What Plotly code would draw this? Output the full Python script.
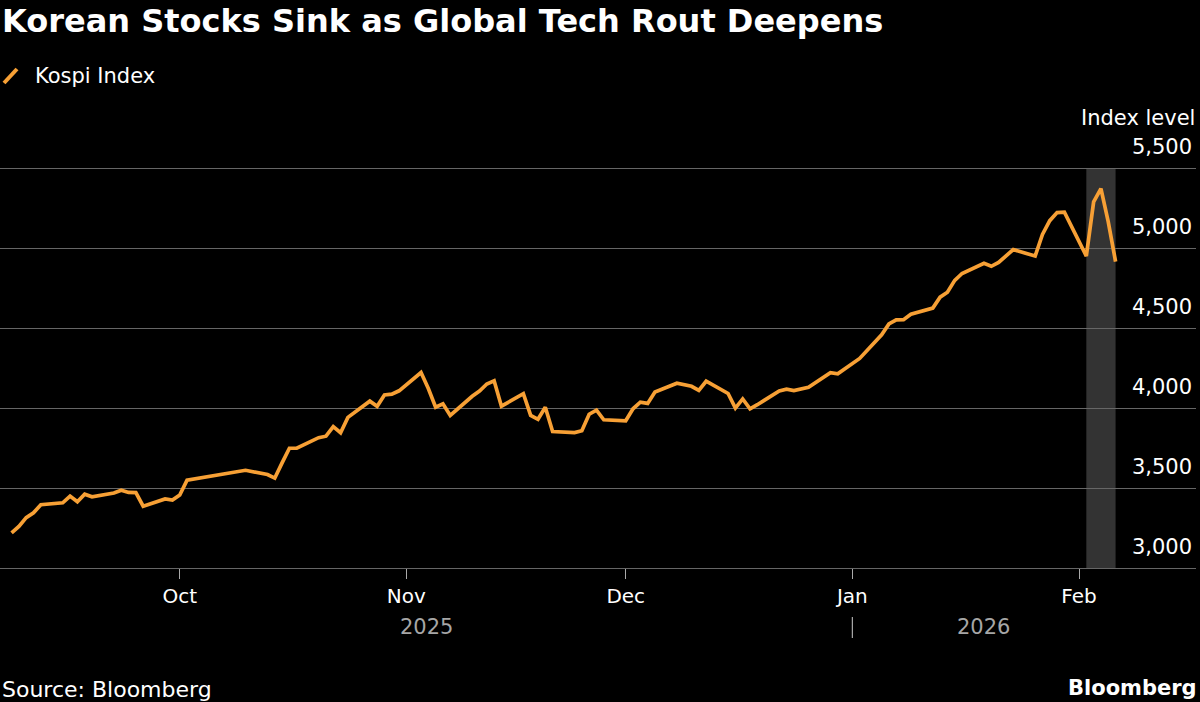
import plotly.graph_objects as go
import pandas as pd

# ---------------- data ----------------
dates = [
    "2025-09-08", "2025-09-09", "2025-09-10", "2025-09-11", "2025-09-12",
    "2025-09-15", "2025-09-16", "2025-09-17", "2025-09-18", "2025-09-19",
    "2025-09-22", "2025-09-23", "2025-09-24", "2025-09-25", "2025-09-26",
    "2025-09-29", "2025-09-30", "2025-10-01", "2025-10-02",
    "2025-10-10", "2025-10-13", "2025-10-14", "2025-10-15", "2025-10-16", "2025-10-17",
    "2025-10-20", "2025-10-21", "2025-10-22", "2025-10-23", "2025-10-24",
    "2025-10-27", "2025-10-28", "2025-10-29", "2025-10-30", "2025-10-31",
    "2025-11-03", "2025-11-04", "2025-11-05", "2025-11-06", "2025-11-07",
    "2025-11-10", "2025-11-11", "2025-11-12", "2025-11-13", "2025-11-14",
    "2025-11-17", "2025-11-18", "2025-11-19", "2025-11-20", "2025-11-21",
    "2025-11-24", "2025-11-25", "2025-11-26", "2025-11-27", "2025-11-28",
    "2025-12-01", "2025-12-02", "2025-12-03", "2025-12-04", "2025-12-05",
    "2025-12-08", "2025-12-09", "2025-12-10", "2025-12-11", "2025-12-12",
    "2025-12-15", "2025-12-16", "2025-12-17", "2025-12-18", "2025-12-19",
    "2025-12-22", "2025-12-23", "2025-12-24", "2025-12-26",
    "2025-12-29", "2025-12-30",
    "2026-01-02",
    "2026-01-05", "2026-01-06", "2026-01-07", "2026-01-08", "2026-01-09",
    "2026-01-12", "2026-01-13", "2026-01-14", "2026-01-15", "2026-01-16",
    "2026-01-19", "2026-01-20", "2026-01-21", "2026-01-22", "2026-01-23",
    "2026-01-26", "2026-01-27", "2026-01-28", "2026-01-29", "2026-01-30",
    "2026-02-02", "2026-02-03", "2026-02-04", "2026-02-05", "2026-02-06",
]

kospi = [
    3219.59, 3260.05, 3314.53, 3344.70, 3395.54,
    3407.31, 3449.62, 3413.73, 3461.30, 3445.24,
    3468.65, 3486.19, 3472.14, 3471.11, 3386.05,
    3431.21, 3424.60, 3455.83, 3549.21,
    3610.60, 3584.55, 3561.81, 3657.28, 3748.37, 3748.89,
    3814.69, 3823.84, 3883.68, 3845.56, 3941.59,
    4042.83, 4010.41, 4081.15, 4086.89, 4107.50,
    4221.87, 4121.74, 4004.42, 4026.45, 3953.76,
    4073.24, 4106.39, 4150.39, 4170.63, 4011.57,
    4089.25, 3953.62, 3929.51, 4004.85, 3853.26,
    3846.06, 3857.78, 3960.87, 3986.91, 3926.59,
    3920.37, 3994.93, 4036.30, 4028.51, 4100.05,
    4154.85, 4143.55, 4135.59, 4110.62, 4167.16,
    4090.59, 3999.13, 4056.41, 3994.51, 4020.55,
    4105.93, 4117.32, 4108.62, 4129.68,
    4220.56, 4214.17,
    4309.63,
    4457.52, 4525.48, 4551.06, 4552.37, 4586.32,
    4624.79, 4692.64, 4723.10, 4797.55, 4840.74,
    4904.66, 4885.75, 4909.93, 4952.53, 4990.07,
    4949.59, 5084.85, 5170.81, 5221.25, 5224.36,
    4949.67, 5288.08, 5371.10, 5163.57, 4915.00,
]

month_ticks = ["2025-10-01", "2025-11-01", "2025-12-01", "2026-01-01", "2026-02-01"]
month_labels = ["Oct", "Nov", "Dec", "Jan", "Feb"]
year_labels = ["2025", "2026"]
year_break = "2026-01-01"

y_ticks = [3000, 3500, 4000, 4500, 5000, 5500]
y_labels = ["3,000", "3,500", "4,000", "4,500", "5,000", "5,500"]

highlight_start = "2026-02-02"
highlight_end = "2026-02-06"

title = "Korean Stocks Sink as Global Tech Rout Deepens"
series_name = "Kospi Index"
unit_label = "Index level"
source = "Source: Bloomberg"
brand = "Bloomberg"

# ---------------- styling ----------------
W, H = 1200, 702
ML, MR, MT, MB = 0, 4, 166, 134
PW, PH = W - ML - MR, H - MT - MB
ORANGE = "#f7a035"
GRID = "#666666"
FONT = "DejaVu Sans"
Y_RANGE = [3000, 5512.5]

def px_x(px):
    return (px - ML) / PW

def px_y(py):
    return (H - MB - py) / PH

x_start = pd.Timestamp("2025-09-06 10:00")
x_end = pd.Timestamp("2026-02-17")

fig = go.Figure()
fig.add_trace(go.Scatter(
    x=pd.to_datetime(dates), y=kospi, mode="lines", name=series_name,
    line=dict(color=ORANGE, width=3.7), showlegend=False, hoverinfo="skip",
))

# highlight band
fig.add_shape(type="rect", xref="x", yref="y",
              x0=highlight_start, x1=highlight_end, y0=y_ticks[0], y1=y_ticks[-1],
              fillcolor="#333333", line_width=0, layer="below")

# year separator
fig.add_shape(type="line", xref="x", yref="paper",
              x0=year_break, x1=year_break, y0=px_y(617), y1=px_y(638),
              line=dict(color="#aaaaaa", width=1.2))

# legend icon
fig.add_shape(type="line", xref="paper", yref="paper",
              x0=px_x(4), y0=px_y(83), x1=px_x(17), y1=px_y(69),
              line=dict(color=ORANGE, width=4))

annotations = [
    dict(text=f"<b>{title}</b>", x=px_x(0), y=px_y(21), xanchor="left", yanchor="middle",
         font=dict(size=32, color="white", family=FONT)),
    dict(text=series_name, x=px_x(33), y=px_y(76), xanchor="left", yanchor="middle",
         font=dict(size=21, color="white", family=FONT)),
    dict(text=unit_label, x=px_x(1197), y=px_y(118), xanchor="right", yanchor="middle",
         font=dict(size=21, color="white", family=FONT)),
    dict(text=source, x=px_x(0), y=px_y(689), xanchor="left", yanchor="middle",
         font=dict(size=22, color="white", family=FONT)),
    dict(text=f"<b>{brand}</b>", x=px_x(1199), y=px_y(688), xanchor="right", yanchor="middle",
         font=dict(size=21, color="white", family=FONT)),
]

# year labels centred on their spans
last = pd.Timestamp(dates[-1])
yb = pd.Timestamp(year_break)
mid1 = x_start + (yb - x_start) / 2
mid2 = yb + (last - yb) / 2
for lbl, mx in zip(year_labels, [mid1, mid2]):
    annotations.append(dict(text=lbl, x=mx, xref="x", y=px_y(627), yref="paper",
                            xanchor="center", yanchor="middle", showarrow=False,
                            font=dict(size=21, color="#a6a6a6", family=FONT)))

for a in annotations:
    a.setdefault("xref", "paper")
    a.setdefault("yref", "paper")
    a["showarrow"] = False

fig.update_layout(
    width=W, height=H,
    margin=dict(l=ML, r=MR, t=MT, b=MB, pad=0),
    paper_bgcolor="black", plot_bgcolor="black",
    font=dict(family=FONT, color="white", size=20),
    annotations=annotations,
    xaxis=dict(
        type="date", range=[x_start, x_end],
        tickmode="array", tickvals=month_ticks, ticktext=month_labels,
        ticks="outside", ticklen=10, tickcolor="#aaaaaa", tickwidth=1,
        tickfont=dict(size=20, color="white", family=FONT),
        showgrid=False, showline=True, linecolor=GRID, linewidth=1,
        zeroline=False, fixedrange=True,
    ),
    yaxis=dict(
        range=Y_RANGE, side="right",
        tickmode="array", tickvals=y_ticks, ticktext=y_labels,
        ticklabelposition="inside", ticklabelshift=-21, ticklabelstandoff=1,
        ticklabeloverflow="allow",
        ticks="", tickfont=dict(size=21, color="white", family=FONT),
        showgrid=True, gridcolor=GRID, gridwidth=1,
        zeroline=False, showline=False, fixedrange=True,
    ),
    hovermode=False,
)

fig.write_html("out.html")
